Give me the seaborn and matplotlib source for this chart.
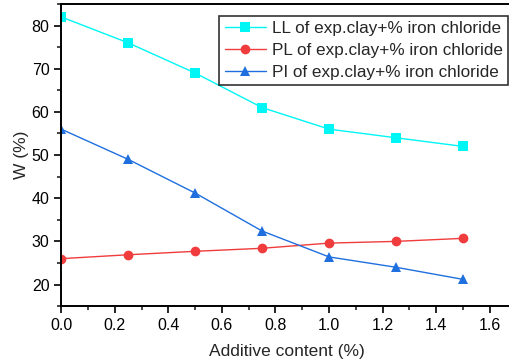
import matplotlib
matplotlib.use("Agg")
import matplotlib.pyplot as plt
import seaborn as sns
import pandas as pd
from matplotlib.ticker import MultipleLocator

sns.set_style("ticks")
plt.rcParams['font.family'] = ['Liberation Sans', 'DejaVu Sans']

additive = [0.0, 0.25, 0.5, 0.75, 1.0, 1.25, 1.5]
ll = [82, 76, 69, 61, 56, 54, 52]
pl = [26, 26.9, 27.7, 28.4, 29.6, 30.0, 30.7]
pi = [56, 49, 41.2, 32.4, 26.4, 24.0, 21.2]
labels = ["LL of exp.clay+% iron chloride",
          "PL of exp.clay+% iron chloride",
          "PI of exp.clay+% iron chloride"]
colors = ["#00F5F5", "#F03C3C", "#1F6FDF"]
markers = ["s", "o", "^"]

df = pd.concat([
    pd.DataFrame({"x": additive, "W": ll, "series": labels[0]}),
    pd.DataFrame({"x": additive, "W": pl, "series": labels[1]}),
    pd.DataFrame({"x": additive, "W": pi, "series": labels[2]}),
])

fig = plt.figure(figsize=(5.10, 3.61), dpi=100)
ax = fig.add_axes([0.12, 0.152, 0.885, 0.837])
sns.lineplot(data=df, x="x", y="W", hue="series", style="series",
             palette=dict(zip(labels, colors)), markers=dict(zip(labels, markers)),
             dashes=False, markersize=7, linewidth=1, markeredgewidth=0, ax=ax)

ax.set_xlim(0, 1.685)
ax.set_ylim(15, 85)
ax.xaxis.set_major_locator(MultipleLocator(0.2))
ax.xaxis.set_minor_locator(MultipleLocator(0.1))
ax.yaxis.set_minor_locator(MultipleLocator(5))
ax.set_yticks([20, 30, 40, 50, 60, 70, 80])
ax.tick_params(axis='both', which='major', direction='out', length=5, width=1.2, labelsize=11.5, colors='black')
ax.tick_params(axis='both', which='minor', direction='out', length=3, width=1.2)
for s in ax.spines.values():
    s.set_linewidth(1.4)
    s.set_color('black')
ax.set_xlabel("Additive content (%)", fontsize=12.5, labelpad=8)
ax.set_ylabel("W (%)", fontsize=12.5, labelpad=2)

leg = ax.legend(loc='upper right', bbox_to_anchor=(0.993, 0.965), fontsize=12.3,
                frameon=True, fancybox=False, edgecolor='black',
                handlelength=2.4, borderpad=0.3, labelspacing=0.4, handletextpad=0.35,
                borderaxespad=0.1)
leg.get_frame().set_linewidth(1.2)

fig.savefig("out.png", dpi=100)
